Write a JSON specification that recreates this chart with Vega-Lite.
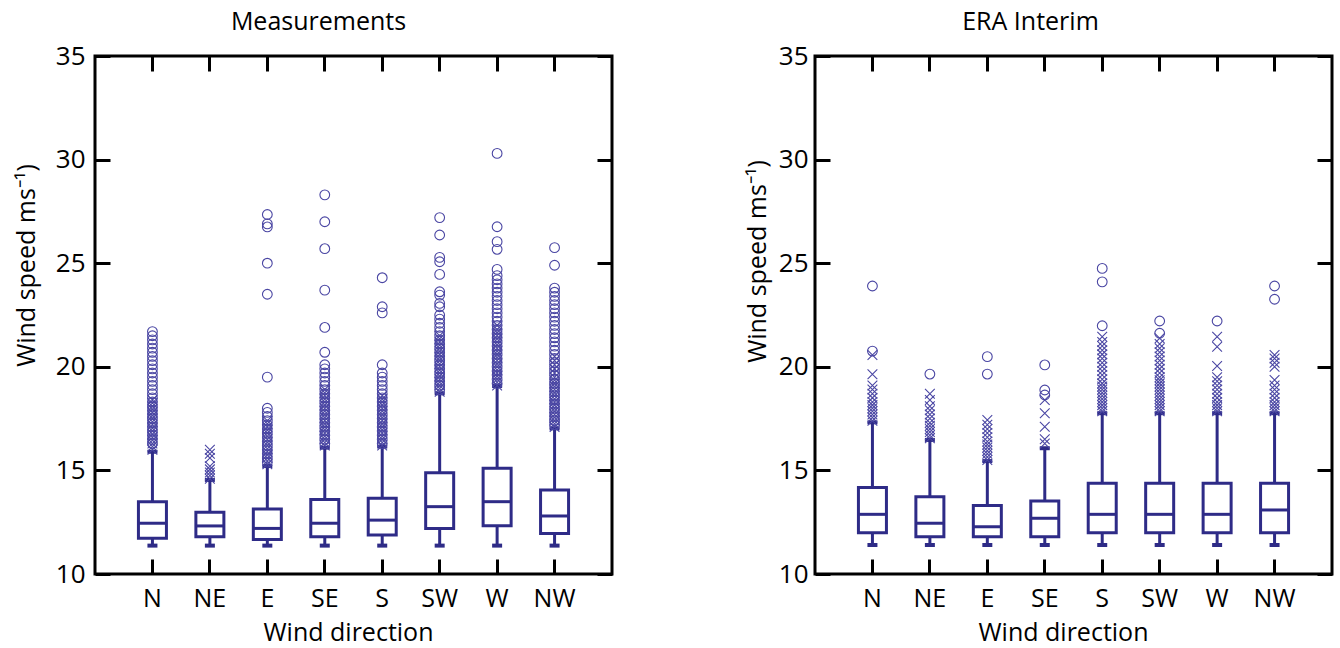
{
 "$schema": "https://vega.github.io/schema/vega-lite/v6.json",
 "background": "white",
 "padding": {"left": 12, "top": 8, "right": 5, "bottom": 0},
 "config": {
  "font": "Open Sans",
  "view": {"stroke": "black", "strokeWidth": 3},
  "axis": {"domain": false, "grid": false, "tickColor": "black", "tickWidth": 3, "tickSize": -15, "labelFontSize": 26, "labelColor": "black", "labelFont": "Open Sans", "titleFont": "Open Sans", "titleFontSize": 25, "titleFontWeight": "normal", "titleColor": "black"},
  "axisBottom": {"labelFontSize": 25},
  "title": {"fontSize": 25, "fontWeight": "normal", "font": "Open Sans", "color": "black"},
  "concat": {"spacing": 128}
 },
 "datasets": {
  "mBox": [
   {"d":"N","lo":11.37,"q1":11.72,"md":12.45,"q3":13.49,"hi":15.9},
   {"d":"NE","lo":11.37,"q1":11.8,"md":12.32,"q3":12.98,"hi":14.54},
   {"d":"E","lo":11.37,"q1":11.67,"md":12.2,"q3":13.14,"hi":15.21},
   {"d":"SE","lo":11.37,"q1":11.8,"md":12.45,"q3":13.6,"hi":16.1},
   {"d":"S","lo":11.37,"q1":11.88,"md":12.6,"q3":13.65,"hi":16.15},
   {"d":"SW","lo":11.37,"q1":12.2,"md":13.25,"q3":14.89,"hi":18.72},
   {"d":"W","lo":11.37,"q1":12.33,"md":13.49,"q3":15.1,"hi":19.07},
   {"d":"NW","lo":11.37,"q1":11.96,"md":12.8,"q3":14.05,"hi":17.03}
  ],
  "eBox": [
   {"d":"N","lo":11.4,"q1":11.99,"md":12.88,"q3":14.17,"hi":17.32},
   {"d":"NE","lo":11.4,"q1":11.8,"md":12.45,"q3":13.73,"hi":16.47},
   {"d":"E","lo":11.4,"q1":11.8,"md":12.28,"q3":13.3,"hi":15.45},
   {"d":"SE","lo":11.4,"q1":11.8,"md":12.69,"q3":13.52,"hi":16.07},
   {"d":"S","lo":11.4,"q1":11.99,"md":12.88,"q3":14.38,"hi":17.76},
   {"d":"SW","lo":11.4,"q1":11.99,"md":12.88,"q3":14.38,"hi":17.76},
   {"d":"W","lo":11.4,"q1":11.99,"md":12.88,"q3":14.38,"hi":17.76},
   {"d":"NW","lo":11.4,"q1":11.99,"md":13.09,"q3":14.38,"hi":17.76}
  ],
  "mPts": [
   {"d":"N","t":"x","v":16.0},{"d":"N","t":"x","v":16.15},{"d":"N","t":"x","v":16.3},{"d":"N","t":"x","v":16.45},{"d":"N","t":"x","v":16.6},{"d":"N","t":"x","v":16.75},{"d":"N","t":"x","v":16.9},{"d":"N","t":"x","v":17.05},{"d":"N","t":"x","v":17.2},{"d":"N","t":"x","v":17.35},{"d":"N","t":"x","v":17.5},{"d":"N","t":"x","v":17.65},{"d":"N","t":"x","v":17.8},{"d":"N","t":"x","v":17.95},{"d":"N","t":"x","v":18.1},{"d":"N","t":"x","v":18.25},{"d":"N","t":"x","v":18.4},
   {"d":"N","t":"o","v":16.3},{"d":"N","t":"o","v":16.5},{"d":"N","t":"o","v":16.7},{"d":"N","t":"o","v":16.9},{"d":"N","t":"o","v":17.1},{"d":"N","t":"o","v":17.3},{"d":"N","t":"o","v":17.5},{"d":"N","t":"o","v":17.7},{"d":"N","t":"o","v":17.9},{"d":"N","t":"o","v":18.1},{"d":"N","t":"o","v":18.3},{"d":"N","t":"o","v":18.5},{"d":"N","t":"o","v":18.7},{"d":"N","t":"o","v":18.9},{"d":"N","t":"o","v":19.1},{"d":"N","t":"o","v":19.3},{"d":"N","t":"o","v":19.5},{"d":"N","t":"o","v":19.7},{"d":"N","t":"o","v":19.9},{"d":"N","t":"o","v":20.1},{"d":"N","t":"o","v":20.3},{"d":"N","t":"o","v":20.5},{"d":"N","t":"o","v":20.7},{"d":"N","t":"o","v":20.9},{"d":"N","t":"o","v":21.1},{"d":"N","t":"o","v":21.3},{"d":"N","t":"o","v":21.5},{"d":"N","t":"o","v":21.7},
   {"d":"NE","t":"x","v":14.6},{"d":"NE","t":"x","v":14.75},{"d":"NE","t":"x","v":14.9},{"d":"NE","t":"x","v":15.05},{"d":"NE","t":"x","v":15.2},{"d":"NE","t":"x","v":15.6},{"d":"NE","t":"x","v":15.8},{"d":"NE","t":"x","v":16.0},
   {"d":"E","t":"x","v":15.3},{"d":"E","t":"x","v":15.45},{"d":"E","t":"x","v":15.6},{"d":"E","t":"x","v":15.75},{"d":"E","t":"x","v":15.9},{"d":"E","t":"x","v":16.05},{"d":"E","t":"x","v":16.2},{"d":"E","t":"x","v":16.35},{"d":"E","t":"x","v":16.5},{"d":"E","t":"x","v":16.65},{"d":"E","t":"x","v":16.8},{"d":"E","t":"x","v":16.95},{"d":"E","t":"x","v":17.1},{"d":"E","t":"x","v":17.25},{"d":"E","t":"x","v":17.4},
   {"d":"E","t":"o","v":15.4},{"d":"E","t":"o","v":15.6},{"d":"E","t":"o","v":15.8},{"d":"E","t":"o","v":16.0},{"d":"E","t":"o","v":16.2},{"d":"E","t":"o","v":16.4},{"d":"E","t":"o","v":16.6},{"d":"E","t":"o","v":16.8},{"d":"E","t":"o","v":17.0},{"d":"E","t":"o","v":17.2},{"d":"E","t":"o","v":17.4},{"d":"E","t":"o","v":17.6},{"d":"E","t":"o","v":17.8},{"d":"E","t":"o","v":18.0},{"d":"E","t":"o","v":19.5},{"d":"E","t":"o","v":23.5},{"d":"E","t":"o","v":25.0},{"d":"E","t":"o","v":26.75},{"d":"E","t":"o","v":26.9},{"d":"E","t":"o","v":27.35},
   {"d":"SE","t":"x","v":16.2},{"d":"SE","t":"x","v":16.35},{"d":"SE","t":"x","v":16.5},{"d":"SE","t":"x","v":16.65},{"d":"SE","t":"x","v":16.8},{"d":"SE","t":"x","v":16.95},{"d":"SE","t":"x","v":17.1},{"d":"SE","t":"x","v":17.25},{"d":"SE","t":"x","v":17.4},{"d":"SE","t":"x","v":17.55},{"d":"SE","t":"x","v":17.7},{"d":"SE","t":"x","v":17.85},{"d":"SE","t":"x","v":18.0},{"d":"SE","t":"x","v":18.15},{"d":"SE","t":"x","v":18.3},{"d":"SE","t":"x","v":18.45},{"d":"SE","t":"x","v":18.6},{"d":"SE","t":"x","v":18.75},{"d":"SE","t":"x","v":18.9},
   {"d":"SE","t":"o","v":16.3},{"d":"SE","t":"o","v":16.5},{"d":"SE","t":"o","v":16.7},{"d":"SE","t":"o","v":16.9},{"d":"SE","t":"o","v":17.1},{"d":"SE","t":"o","v":17.3},{"d":"SE","t":"o","v":17.5},{"d":"SE","t":"o","v":17.7},{"d":"SE","t":"o","v":17.9},{"d":"SE","t":"o","v":18.1},{"d":"SE","t":"o","v":18.3},{"d":"SE","t":"o","v":18.5},{"d":"SE","t":"o","v":18.7},{"d":"SE","t":"o","v":18.9},{"d":"SE","t":"o","v":19.1},{"d":"SE","t":"o","v":19.3},{"d":"SE","t":"o","v":19.5},{"d":"SE","t":"o","v":19.7},{"d":"SE","t":"o","v":19.9},{"d":"SE","t":"o","v":20.1},{"d":"SE","t":"o","v":20.7},{"d":"SE","t":"o","v":21.9},{"d":"SE","t":"o","v":23.7},{"d":"SE","t":"o","v":25.7},{"d":"SE","t":"o","v":27.0},{"d":"SE","t":"o","v":28.3},
   {"d":"S","t":"x","v":16.2},{"d":"S","t":"x","v":16.35},{"d":"S","t":"x","v":16.5},{"d":"S","t":"x","v":16.65},{"d":"S","t":"x","v":16.8},{"d":"S","t":"x","v":16.95},{"d":"S","t":"x","v":17.1},{"d":"S","t":"x","v":17.25},{"d":"S","t":"x","v":17.4},{"d":"S","t":"x","v":17.55},{"d":"S","t":"x","v":17.7},{"d":"S","t":"x","v":17.85},{"d":"S","t":"x","v":18.0},{"d":"S","t":"x","v":18.15},{"d":"S","t":"x","v":18.3},{"d":"S","t":"x","v":18.45},{"d":"S","t":"x","v":18.6},
   {"d":"S","t":"o","v":16.3},{"d":"S","t":"o","v":16.5},{"d":"S","t":"o","v":16.7},{"d":"S","t":"o","v":16.9},{"d":"S","t":"o","v":17.1},{"d":"S","t":"o","v":17.3},{"d":"S","t":"o","v":17.5},{"d":"S","t":"o","v":17.7},{"d":"S","t":"o","v":17.9},{"d":"S","t":"o","v":18.1},{"d":"S","t":"o","v":18.3},{"d":"S","t":"o","v":18.5},{"d":"S","t":"o","v":18.7},{"d":"S","t":"o","v":18.9},{"d":"S","t":"o","v":19.1},{"d":"S","t":"o","v":19.3},{"d":"S","t":"o","v":19.5},{"d":"S","t":"o","v":19.7},{"d":"S","t":"o","v":20.1},{"d":"S","t":"o","v":22.6},{"d":"S","t":"o","v":22.9},{"d":"S","t":"o","v":24.3},
   {"d":"SW","t":"x","v":18.8},{"d":"SW","t":"x","v":18.95},{"d":"SW","t":"x","v":19.1},{"d":"SW","t":"x","v":19.25},{"d":"SW","t":"x","v":19.4},{"d":"SW","t":"x","v":19.55},{"d":"SW","t":"x","v":19.7},{"d":"SW","t":"x","v":19.85},{"d":"SW","t":"x","v":20.0},{"d":"SW","t":"x","v":20.15},{"d":"SW","t":"x","v":20.3},{"d":"SW","t":"x","v":20.45},{"d":"SW","t":"x","v":20.6},{"d":"SW","t":"x","v":20.75},{"d":"SW","t":"x","v":20.9},{"d":"SW","t":"x","v":21.05},{"d":"SW","t":"x","v":21.2},{"d":"SW","t":"x","v":21.35},{"d":"SW","t":"x","v":21.5},
   {"d":"SW","t":"o","v":18.9},{"d":"SW","t":"o","v":19.1},{"d":"SW","t":"o","v":19.3},{"d":"SW","t":"o","v":19.5},{"d":"SW","t":"o","v":19.7},{"d":"SW","t":"o","v":19.9},{"d":"SW","t":"o","v":20.1},{"d":"SW","t":"o","v":20.3},{"d":"SW","t":"o","v":20.5},{"d":"SW","t":"o","v":20.7},{"d":"SW","t":"o","v":20.9},{"d":"SW","t":"o","v":21.1},{"d":"SW","t":"o","v":21.3},{"d":"SW","t":"o","v":21.5},{"d":"SW","t":"o","v":21.7},{"d":"SW","t":"o","v":21.9},{"d":"SW","t":"o","v":22.1},{"d":"SW","t":"o","v":22.3},{"d":"SW","t":"o","v":22.5},{"d":"SW","t":"o","v":22.9},{"d":"SW","t":"o","v":23.06},{"d":"SW","t":"o","v":23.46},{"d":"SW","t":"o","v":23.62},{"d":"SW","t":"o","v":24.46},{"d":"SW","t":"o","v":25.07},{"d":"SW","t":"o","v":25.28},{"d":"SW","t":"o","v":26.36},{"d":"SW","t":"o","v":27.2},
   {"d":"W","t":"x","v":19.1},{"d":"W","t":"x","v":19.25},{"d":"W","t":"x","v":19.4},{"d":"W","t":"x","v":19.55},{"d":"W","t":"x","v":19.7},{"d":"W","t":"x","v":19.85},{"d":"W","t":"x","v":20.0},{"d":"W","t":"x","v":20.15},{"d":"W","t":"x","v":20.3},{"d":"W","t":"x","v":20.45},{"d":"W","t":"x","v":20.6},{"d":"W","t":"x","v":20.75},{"d":"W","t":"x","v":20.9},{"d":"W","t":"x","v":21.05},{"d":"W","t":"x","v":21.2},{"d":"W","t":"x","v":21.35},{"d":"W","t":"x","v":21.5},{"d":"W","t":"x","v":21.65},{"d":"W","t":"x","v":21.8},{"d":"W","t":"x","v":22.0},
   {"d":"W","t":"o","v":19.2},{"d":"W","t":"o","v":19.4},{"d":"W","t":"o","v":19.6},{"d":"W","t":"o","v":19.8},{"d":"W","t":"o","v":20.0},{"d":"W","t":"o","v":20.2},{"d":"W","t":"o","v":20.4},{"d":"W","t":"o","v":20.6},{"d":"W","t":"o","v":20.8},{"d":"W","t":"o","v":21.0},{"d":"W","t":"o","v":21.2},{"d":"W","t":"o","v":21.4},{"d":"W","t":"o","v":21.6},{"d":"W","t":"o","v":21.8},{"d":"W","t":"o","v":22.0},{"d":"W","t":"o","v":22.2},{"d":"W","t":"o","v":22.4},{"d":"W","t":"o","v":22.6},{"d":"W","t":"o","v":22.8},{"d":"W","t":"o","v":23.0},{"d":"W","t":"o","v":23.2},{"d":"W","t":"o","v":23.4},{"d":"W","t":"o","v":23.6},{"d":"W","t":"o","v":23.8},{"d":"W","t":"o","v":24.0},{"d":"W","t":"o","v":24.2},{"d":"W","t":"o","v":24.4},{"d":"W","t":"o","v":24.7},{"d":"W","t":"o","v":25.67},{"d":"W","t":"o","v":26.04},{"d":"W","t":"o","v":26.76},{"d":"W","t":"o","v":30.3},
   {"d":"NW","t":"x","v":17.1},{"d":"NW","t":"x","v":17.25},{"d":"NW","t":"x","v":17.4},{"d":"NW","t":"x","v":17.55},{"d":"NW","t":"x","v":17.7},{"d":"NW","t":"x","v":17.85},{"d":"NW","t":"x","v":18.0},{"d":"NW","t":"x","v":18.15},{"d":"NW","t":"x","v":18.3},{"d":"NW","t":"x","v":18.45},{"d":"NW","t":"x","v":18.6},{"d":"NW","t":"x","v":18.75},{"d":"NW","t":"x","v":18.9},{"d":"NW","t":"x","v":19.05},{"d":"NW","t":"x","v":19.2},{"d":"NW","t":"x","v":19.35},{"d":"NW","t":"x","v":19.5},{"d":"NW","t":"x","v":19.7},{"d":"NW","t":"x","v":19.9},{"d":"NW","t":"x","v":20.1},{"d":"NW","t":"x","v":20.3},{"d":"NW","t":"x","v":20.5},
   {"d":"NW","t":"o","v":17.2},{"d":"NW","t":"o","v":17.4},{"d":"NW","t":"o","v":17.6},{"d":"NW","t":"o","v":17.8},{"d":"NW","t":"o","v":18.0},{"d":"NW","t":"o","v":18.2},{"d":"NW","t":"o","v":18.4},{"d":"NW","t":"o","v":18.6},{"d":"NW","t":"o","v":18.8},{"d":"NW","t":"o","v":19.0},{"d":"NW","t":"o","v":19.2},{"d":"NW","t":"o","v":19.4},{"d":"NW","t":"o","v":19.6},{"d":"NW","t":"o","v":19.8},{"d":"NW","t":"o","v":20.0},{"d":"NW","t":"o","v":20.2},{"d":"NW","t":"o","v":20.4},{"d":"NW","t":"o","v":20.6},{"d":"NW","t":"o","v":20.8},{"d":"NW","t":"o","v":21.0},{"d":"NW","t":"o","v":21.2},{"d":"NW","t":"o","v":21.4},{"d":"NW","t":"o","v":21.6},{"d":"NW","t":"o","v":21.8},{"d":"NW","t":"o","v":22.0},{"d":"NW","t":"o","v":22.2},{"d":"NW","t":"o","v":22.4},{"d":"NW","t":"o","v":22.6},{"d":"NW","t":"o","v":22.8},{"d":"NW","t":"o","v":23.0},{"d":"NW","t":"o","v":23.2},{"d":"NW","t":"o","v":23.4},{"d":"NW","t":"o","v":23.6},{"d":"NW","t":"o","v":23.8},{"d":"NW","t":"o","v":24.9},{"d":"NW","t":"o","v":25.75}
  ],
  "ePts": [
   {"d":"N","t":"x","v":17.4},{"d":"N","t":"x","v":17.55},{"d":"N","t":"x","v":17.7},{"d":"N","t":"x","v":17.85},{"d":"N","t":"x","v":18.0},{"d":"N","t":"x","v":18.15},{"d":"N","t":"x","v":18.3},{"d":"N","t":"x","v":18.5},{"d":"N","t":"x","v":18.7},{"d":"N","t":"x","v":18.9},{"d":"N","t":"x","v":19.1},{"d":"N","t":"x","v":19.64},{"d":"N","t":"x","v":20.57},{"d":"N","t":"o","v":20.76},{"d":"N","t":"o","v":23.9},
   {"d":"NE","t":"x","v":16.55},{"d":"NE","t":"x","v":16.7},{"d":"NE","t":"x","v":16.85},{"d":"NE","t":"x","v":17.0},{"d":"NE","t":"x","v":17.15},{"d":"NE","t":"x","v":17.3},{"d":"NE","t":"x","v":17.5},{"d":"NE","t":"x","v":17.7},{"d":"NE","t":"x","v":17.9},{"d":"NE","t":"x","v":18.1},{"d":"NE","t":"x","v":18.4},{"d":"NE","t":"x","v":18.7},{"d":"NE","t":"o","v":19.65},
   {"d":"E","t":"x","v":15.5},{"d":"E","t":"x","v":15.65},{"d":"E","t":"x","v":15.8},{"d":"E","t":"x","v":15.95},{"d":"E","t":"x","v":16.1},{"d":"E","t":"x","v":16.25},{"d":"E","t":"x","v":16.4},{"d":"E","t":"x","v":16.6},{"d":"E","t":"x","v":16.8},{"d":"E","t":"x","v":17.0},{"d":"E","t":"x","v":17.2},{"d":"E","t":"x","v":17.43},{"d":"E","t":"o","v":19.65},{"d":"E","t":"o","v":20.49},
   {"d":"SE","t":"x","v":16.3},{"d":"SE","t":"x","v":16.5},{"d":"SE","t":"x","v":17.11},{"d":"SE","t":"x","v":17.76},{"d":"SE","t":"x","v":18.4},{"d":"SE","t":"o","v":18.64},{"d":"SE","t":"o","v":18.88},{"d":"SE","t":"o","v":20.09},
   {"d":"S","t":"x","v":17.85},{"d":"S","t":"x","v":18.0},{"d":"S","t":"x","v":18.15},{"d":"S","t":"x","v":18.3},{"d":"S","t":"x","v":18.45},{"d":"S","t":"x","v":18.6},{"d":"S","t":"x","v":18.75},{"d":"S","t":"x","v":18.9},{"d":"S","t":"x","v":19.05},{"d":"S","t":"x","v":19.2},{"d":"S","t":"x","v":19.4},{"d":"S","t":"x","v":19.6},{"d":"S","t":"x","v":19.8},{"d":"S","t":"x","v":20.0},{"d":"S","t":"x","v":20.2},{"d":"S","t":"x","v":20.4},{"d":"S","t":"x","v":20.6},{"d":"S","t":"x","v":20.8},{"d":"S","t":"x","v":21.0},{"d":"S","t":"x","v":21.2},{"d":"S","t":"x","v":21.45},{"d":"S","t":"o","v":21.98},{"d":"S","t":"o","v":24.1},{"d":"S","t":"o","v":24.75},
   {"d":"SW","t":"x","v":17.85},{"d":"SW","t":"x","v":18.0},{"d":"SW","t":"x","v":18.15},{"d":"SW","t":"x","v":18.3},{"d":"SW","t":"x","v":18.45},{"d":"SW","t":"x","v":18.6},{"d":"SW","t":"x","v":18.75},{"d":"SW","t":"x","v":18.9},{"d":"SW","t":"x","v":19.05},{"d":"SW","t":"x","v":19.2},{"d":"SW","t":"x","v":19.35},{"d":"SW","t":"x","v":19.5},{"d":"SW","t":"x","v":19.7},{"d":"SW","t":"x","v":19.9},{"d":"SW","t":"x","v":20.1},{"d":"SW","t":"x","v":20.3},{"d":"SW","t":"x","v":20.5},{"d":"SW","t":"x","v":20.7},{"d":"SW","t":"x","v":20.9},{"d":"SW","t":"x","v":21.1},{"d":"SW","t":"x","v":21.38},{"d":"SW","t":"o","v":21.62},{"d":"SW","t":"o","v":22.21},
   {"d":"W","t":"x","v":17.85},{"d":"W","t":"x","v":18.0},{"d":"W","t":"x","v":18.15},{"d":"W","t":"x","v":18.3},{"d":"W","t":"x","v":18.5},{"d":"W","t":"x","v":18.7},{"d":"W","t":"x","v":18.9},{"d":"W","t":"x","v":19.1},{"d":"W","t":"x","v":19.3},{"d":"W","t":"x","v":19.5},{"d":"W","t":"x","v":20.04},{"d":"W","t":"x","v":20.97},{"d":"W","t":"x","v":21.45},{"d":"W","t":"o","v":22.21},
   {"d":"NW","t":"x","v":17.85},{"d":"NW","t":"x","v":18.0},{"d":"NW","t":"x","v":18.15},{"d":"NW","t":"x","v":18.3},{"d":"NW","t":"x","v":18.5},{"d":"NW","t":"x","v":18.7},{"d":"NW","t":"x","v":18.9},{"d":"NW","t":"x","v":19.1},{"d":"NW","t":"x","v":19.36},{"d":"NW","t":"x","v":20.0},{"d":"NW","t":"x","v":20.2},{"d":"NW","t":"x","v":20.4},{"d":"NW","t":"x","v":20.57},{"d":"NW","t":"o","v":23.26},{"d":"NW","t":"o","v":23.9}
  ]
 },
 "hconcat": [
  {
   "width": 517, "height": 518,
   "title": {"text": "Measurements", "dx": -35, "offset": 8},
   "resolve": {"axis": {"x": "independent", "y": "independent"}},
   "layer": [
    {"data": {"name": "mBox"}, "mark": {"type": "rule", "color": "#2e2b87", "strokeWidth": 3},
     "encoding": {
      "x": {"field": "d", "type": "nominal", "scale": {"domain": ["N","NE","E","SE","S","SW","W","NW"], "paddingInner": 0.5125, "paddingOuter": 0.756}, "axis": {"orient": "bottom", "labelAngle": 0, "labelPadding": 27, "title": "Wind direction", "titleX": 253, "titleY": 46, "titleAnchor": "middle"}},
      "y": {"field": "lo", "type": "quantitative", "scale": {"domain": [10, 35], "nice": false, "zero": false}, "axis": {"values": [10,15,20,25,30,35], "labelPadding": 25, "title": "Wind speed ms⁻¹)", "titleX": -56, "titleY": 209}},
      "y2": {"field": "hi"}}},
    {"data": {"name": "mBox"}, "mark": {"type": "bar", "fill": "white", "stroke": "#2e2b87", "strokeWidth": 3},
     "encoding": {
      "x": {"field": "d", "type": "nominal", "scale": {"domain": ["N","NE","E","SE","S","SW","W","NW"], "paddingInner": 0.5125, "paddingOuter": 0.756}, "axis": {"orient": "top", "labels": false, "title": null}},
      "y": {"field": "q1", "type": "quantitative", "axis": {"orient": "right", "labels": false, "title": null, "values": [10,15,20,25,30,35]}},
      "y2": {"field": "q3"}}},
    {"data": {"name": "mBox"}, "mark": {"type": "tick", "color": "#2e2b87", "opacity": 1, "size": 28, "thickness": 3},
     "encoding": {
      "x": {"field": "d", "type": "nominal", "axis": null},
      "y": {"field": "md", "type": "quantitative", "axis": null}}},
    {"data": {"name": "mBox"}, "mark": {"type": "tick", "color": "#2e2b87", "opacity": 1, "size": 10, "thickness": 4},
     "encoding": {
      "x": {"field": "d", "type": "nominal", "axis": null},
      "y": {"field": "lo", "type": "quantitative", "axis": null}}},
    {"data": {"name": "mBox"}, "mark": {"type": "tick", "color": "#2e2b87", "opacity": 1, "size": 10, "thickness": 4},
     "encoding": {
      "x": {"field": "d", "type": "nominal", "axis": null},
      "y": {"field": "hi", "type": "quantitative", "axis": null}}},
    {"data": {"name": "mPts"}, "mark": {"type": "point", "filled": false, "size": 95, "strokeWidth": 1.1, "opacity": 1, "color": "#4a46a3"},
     "encoding": {
      "x": {"field": "d", "type": "nominal", "axis": null},
      "y": {"field": "v", "type": "quantitative", "axis": null},
      "shape": {"field": "t", "type": "nominal", "scale": {"domain": ["o","x"], "range": ["circle", "M-1,-1L1,1M-1,1L1,-1"]}, "legend": null}}}
   ]
  },
  {
   "width": 517, "height": 518,
   "title": {"text": "ERA Interim", "dx": -43, "offset": 8},
   "resolve": {"axis": {"x": "independent", "y": "independent"}},
   "layer": [
    {"data": {"name": "eBox"}, "mark": {"type": "rule", "color": "#2e2b87", "strokeWidth": 3},
     "encoding": {
      "x": {"field": "d", "type": "nominal", "scale": {"domain": ["N","NE","E","SE","S","SW","W","NW"], "paddingInner": 0.5125, "paddingOuter": 0.756}, "axis": {"orient": "bottom", "labelAngle": 0, "labelPadding": 27, "title": "Wind direction", "titleX": 248, "titleY": 46, "titleAnchor": "middle"}},
      "y": {"field": "lo", "type": "quantitative", "scale": {"domain": [10, 35], "nice": false, "zero": false}, "axis": {"values": [10,15,20,25,30,35], "labelPadding": 22, "title": "Wind speed ms⁻¹)", "titleX": -45, "titleY": 205}},
      "y2": {"field": "hi"}}},
    {"data": {"name": "eBox"}, "mark": {"type": "bar", "fill": "white", "stroke": "#2e2b87", "strokeWidth": 3},
     "encoding": {
      "x": {"field": "d", "type": "nominal", "scale": {"domain": ["N","NE","E","SE","S","SW","W","NW"], "paddingInner": 0.5125, "paddingOuter": 0.756}, "axis": {"orient": "top", "labels": false, "title": null}},
      "y": {"field": "q1", "type": "quantitative", "axis": {"orient": "right", "labels": false, "title": null, "values": [10,15,20,25,30,35]}},
      "y2": {"field": "q3"}}},
    {"data": {"name": "eBox"}, "mark": {"type": "tick", "color": "#2e2b87", "opacity": 1, "size": 28, "thickness": 3},
     "encoding": {
      "x": {"field": "d", "type": "nominal", "axis": null},
      "y": {"field": "md", "type": "quantitative", "axis": null}}},
    {"data": {"name": "eBox"}, "mark": {"type": "tick", "color": "#2e2b87", "opacity": 1, "size": 10, "thickness": 4},
     "encoding": {
      "x": {"field": "d", "type": "nominal", "axis": null},
      "y": {"field": "lo", "type": "quantitative", "axis": null}}},
    {"data": {"name": "eBox"}, "mark": {"type": "tick", "color": "#2e2b87", "opacity": 1, "size": 10, "thickness": 4},
     "encoding": {
      "x": {"field": "d", "type": "nominal", "axis": null},
      "y": {"field": "hi", "type": "quantitative", "axis": null}}},
    {"data": {"name": "ePts"}, "mark": {"type": "point", "filled": false, "size": 95, "strokeWidth": 1.1, "opacity": 1, "color": "#4a46a3"},
     "encoding": {
      "x": {"field": "d", "type": "nominal", "axis": null},
      "y": {"field": "v", "type": "quantitative", "axis": null},
      "shape": {"field": "t", "type": "nominal", "scale": {"domain": ["o","x"], "range": ["circle", "M-1,-1L1,1M-1,1L1,-1"]}, "legend": null}}}
   ]
  }
 ]
}
